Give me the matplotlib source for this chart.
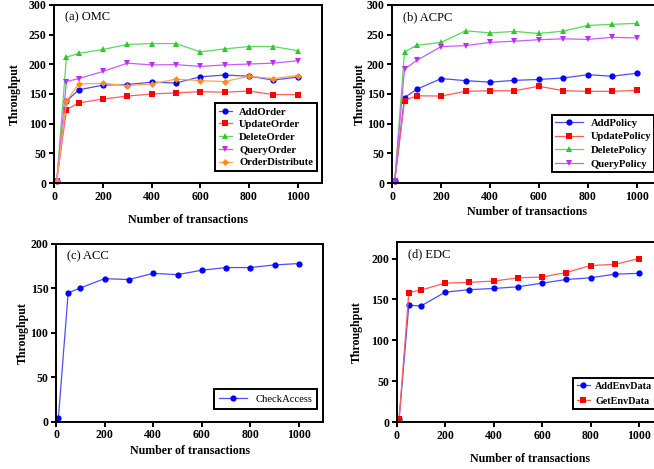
import matplotlib
matplotlib.use("Agg")
import matplotlib.pyplot as plt

plt.rcParams['font.family'] = ['Liberation Serif', 'DejaVu Serif']

x = [10, 50, 100, 200, 300, 400, 500, 600, 700, 800, 900, 1000]

# (a) OMC
add_order = [4, 138, 157, 165, 166, 170, 168.5, 179, 182, 180, 173.5, 178.5]
update_order = [4, 123.5, 135, 141.5, 146.5, 150, 152, 154, 153, 155, 149, 149]
delete_order = [4, 212, 218.5, 225, 233.5, 235, 235, 221, 226, 230, 230, 223]
query_order = [4, 171, 176, 188, 202, 199, 199.5, 196.5, 199, 200.5, 202, 206]
order_distribute = [4, 138, 167, 168, 164, 167, 175, 172.5, 171, 180, 176, 181]

# (b) ACPC
add_policy = [4, 144, 158, 176, 172.5, 170, 173, 174.5, 177, 182.5, 180, 185]
update_policy = [4, 139, 147, 146.5, 154.5, 155.5, 155.5, 163, 155.5, 154.5, 154.5, 156]
delete_policy = [4, 221, 232, 237, 256.5, 253, 255.5, 252, 256, 265.5, 267.5, 269]
query_policy = [4, 192, 206.5, 230, 231.5, 237, 239, 241.5, 243, 242, 245.5, 244.5]

# (c) ACC
check_access = [4.5, 145, 150.5, 161, 160, 167, 165.5, 170.5, 173.5, 173.5, 176.5, 178]

# (d) EDC
add_env = [4, 143, 142, 159, 162, 163.5, 165.5, 170, 174.5, 176.5, 181, 182]
get_env = [4, 158.5, 161.5, 170, 171, 172.5, 176.5, 177.5, 183, 191.5, 193, 200]

xticks = [0, 200, 400, 600, 800, 1000]

BLUE = ('#0000FF', '#4D4DFF')
RED = ('#FF0000', '#FF5C5C')
GREEN = ('#2DC82D', '#5CD65C')
PURPLE = ('#B82EFF', '#C95CFF')
ORANGE = ('#FF8C1A', '#FFA54D')

W, H = 654, 469
fig = plt.figure(figsize=(W / 100, H / 100), dpi=100)


def make_ax(l, r, t, b, ymax, ystep, title, xlab_off, ylab_off):
    ax = fig.add_axes([l / W, 1 - b / H, (r - l) / W, (b - t) / H])
    ax.set_xlim(0, 1100)
    ax.set_ylim(0, ymax)
    ax.set_xticks(xticks)
    yt = [v for v in range(0, int(ymax) + 1, ystep) if v <= ymax]
    ax.set_yticks(yt)
    for s in ax.spines.values():
        s.set_linewidth(1.4)
    ax.tick_params(direction='out', length=3.5, width=1.4, labelsize=8.5, pad=2)
    for lab in ax.get_xticklabels() + ax.get_yticklabels():
        lab.set_fontweight('bold')
    ax.set_xlabel('Number of transactions', fontsize=8.6, fontweight='bold')
    ax.set_ylabel('Throughput', fontsize=8.6, fontweight='bold')
    hpx = b - t
    wpx = r - l
    ax.xaxis.set_label_coords(0.5, -xlab_off / hpx)
    ax.xaxis.label.set_va('center')
    ax.yaxis.set_label_coords(-ylab_off / wpx, 0.5)
    ax.yaxis.label.set_va('center')
    ax.text(11 / wpx, 1 - 12 / hpx, title, transform=ax.transAxes,
            fontsize=9, va='center', ha='left')
    return ax


def plot(ax, y, col, marker, label, ms=4.5):
    ax.plot(x, y, color=col[1], lw=0.9, marker=marker, ms=ms,
            markerfacecolor=col[0], markeredgewidth=0, label=label,
            clip_on=False)


def legend(ax, xl, yt, bold, fs, hl, htp, ls, bp):
    prop = {'size': fs}
    if bold:
        prop['weight'] = 'bold'
    leg = ax.legend(loc='upper left', bbox_to_anchor=(xl / W, 1 - yt / H),
                    bbox_transform=fig.transFigure, borderaxespad=0,
                    prop=prop, handlelength=hl, handletextpad=htp,
                    labelspacing=ls, fancybox=False, edgecolor='black',
                    framealpha=1, borderpad=bp)
    leg.get_frame().set_linewidth(1.4)
    return leg


# (a)
axa = make_ax(54.3, 322.0, 5, 183, 300, 50, '(a) OMC', 37, 39)
plot(axa, add_order, BLUE, 'o', 'AddOrder')
plot(axa, update_order, RED, 's', 'UpdateOrder')
plot(axa, delete_order, GREEN, '^', 'DeleteOrder')
plot(axa, query_order, PURPLE, 'v', 'QueryOrder')
plot(axa, order_distribute, ORANGE, 'D', 'OrderDistribute', ms=3.5)
legend(axa, 215, 103.3, True, 7.7, 1.25, 0.65, 0.3, 0.35)

# (b)
axb = make_ax(392.3, 661.1, 5, 183, 300, 50, '(b) ACPC', 29, 32)
plot(axb, add_policy, BLUE, 'o', 'AddPolicy')
plot(axb, update_policy, RED, 's', 'UpdatePolicy')
plot(axb, delete_policy, GREEN, '^', 'DeletePolicy')
plot(axb, query_policy, PURPLE, 'v', 'QueryPolicy')
legend(axb, 552, 115, True, 7.7, 2.6, 0.7, 0.4, 0.3)

# (c)
axc = make_ax(56, 323.3, 244, 421.7, 200, 50, '(c) ACC', 29, 33)
plot(axc, check_access, BLUE, 'o', 'CheckAccess')
legend(axc, 214, 389, False, 7.7, 2.6, 0.75, 0.4, 0.5)

# (d)
axd = make_ax(396.7, 663.2, 242.3, 422, 220, 50, '(d) EDC', 37, 40)
plot(axd, add_env, BLUE, 'o', 'AddEnvData')
plot(axd, get_env, RED, 's', 'GetEnvData')
legend(axd, 573.3, 378.3, True, 7.3, 1.3, 0.5, 0.55, 0.35)

fig.savefig('out.png', dpi=100)
